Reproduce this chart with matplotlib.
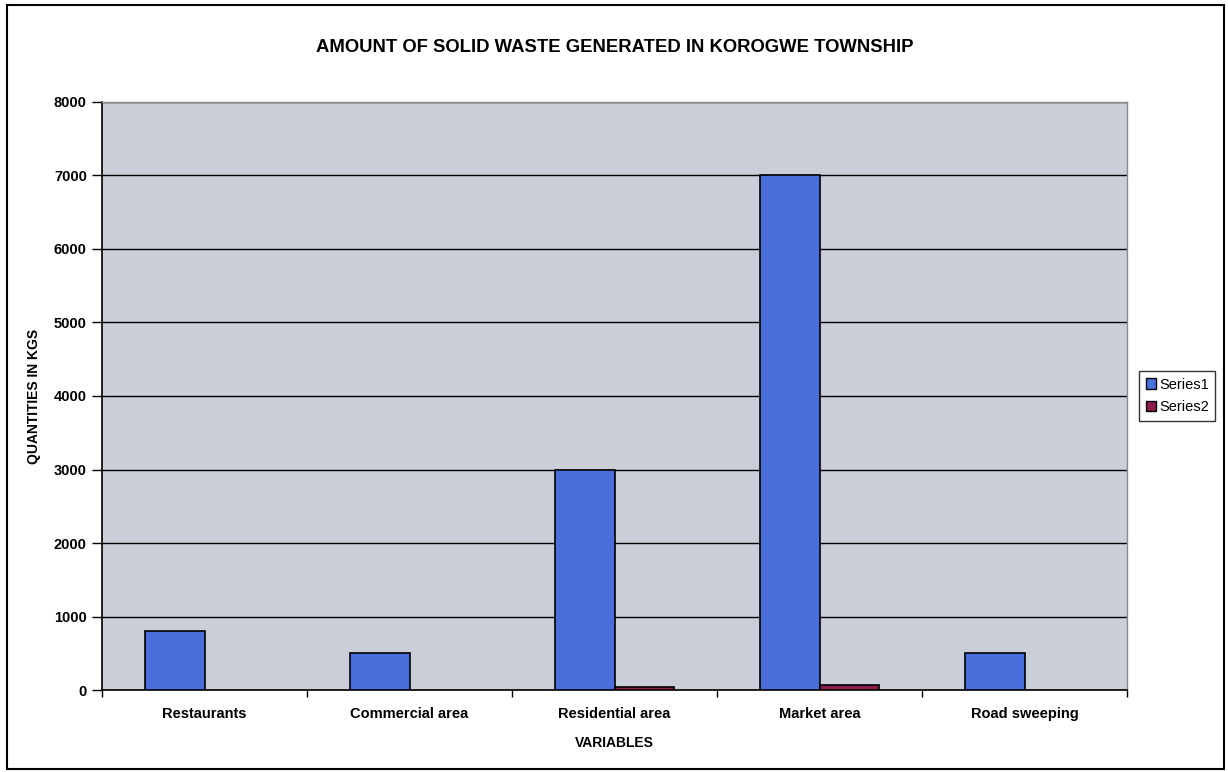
import numpy as np
import matplotlib.pyplot as plt
from matplotlib.patches import Rectangle

plt.rcParams['font.family'] = ['Liberation Sans', 'DejaVu Sans']

# Data
categories = ["Restaurants", "Commercial area", "Residential area", "Market area", "Road sweeping"]
series1 = [800, 500, 3000, 7000, 500]
series2 = [0, 0, 40, 70, 0]
series_names = ["Series1", "Series2"]

fig = plt.figure(figsize=(12.28, 7.72), dpi=100)
fig.patch.set_facecolor("white")
ax = fig.add_axes([0.0831, 0.1062, 0.8347, 0.7617])
ax.set_facecolor("#caced8")

x = np.arange(len(categories))
w = 0.29
lw2 = [1.2 if v > 0 else 0 for v in series2]
ax.bar(x - w / 2, series1, w, color="#4a6fdc", edgecolor="black", linewidth=1.2, label=series_names[0], zorder=3)
ax.bar(x + w / 2, series2, w, color="#8c1c4c", edgecolor="black", linewidth=lw2, label=series_names[1], zorder=3)

ax.set_xlim(-0.5, len(categories) - 0.5)
ax.set_ylim(0, 8000)
ax.set_yticks(np.arange(0, 8001, 1000))
ax.yaxis.grid(True, color="black", linewidth=1.0, zorder=1)
ax.set_axisbelow(True)

ax.set_xticks(x)
ax.set_xticklabels(categories, fontsize=10.5, fontweight="bold")
ax.set_xticks(np.arange(-0.5, len(categories)), minor=True)
ax.tick_params(axis="x", which="major", length=0, pad=12)
ax.tick_params(axis="x", which="minor", length=5, width=1, direction="out")
ax.tick_params(axis="y", length=7, width=1, direction="out", pad=4, labelsize=10.5)
for lab in ax.get_yticklabels():
    lab.set_fontweight("bold")

for s in ["left", "bottom"]:
    ax.spines[s].set_color("black")
    ax.spines[s].set_linewidth(1.2)
for s in ["top", "right"]:
    ax.spines[s].set_color("#8a8a8a")
    ax.spines[s].set_linewidth(1.0)

ax.set_xlabel("VARIABLES", fontsize=10, fontweight="bold", labelpad=11)
ax.set_ylabel("QUANTITIES IN KGS", fontsize=10, fontweight="bold", labelpad=9)

fig.text(0.501, 0.939, "AMOUNT OF SOLID WASTE GENERATED IN KOROGWE TOWNSHIP",
         ha="center", va="center", fontsize=13.3, fontweight="bold")

leg = ax.legend(loc="center left", bbox_to_anchor=(1.012, 0.5), fontsize=10.5,
                frameon=True, fancybox=False, edgecolor="black", handlelength=0.7,
                handleheight=0.7, handletextpad=0.2, borderpad=0.45, labelspacing=0.6,
                borderaxespad=0)
leg.get_frame().set_linewidth(1.0)
for h in leg.legend_handles:
    h.set_linewidth(1.0)
    h.set_edgecolor("black")

# outer chart frame
fig.patches.append(Rectangle((0.006, 0.004), 0.991, 0.99, transform=fig.transFigure,
                             fill=False, edgecolor="black", linewidth=1.5))

fig.savefig("out.png", dpi=100)
